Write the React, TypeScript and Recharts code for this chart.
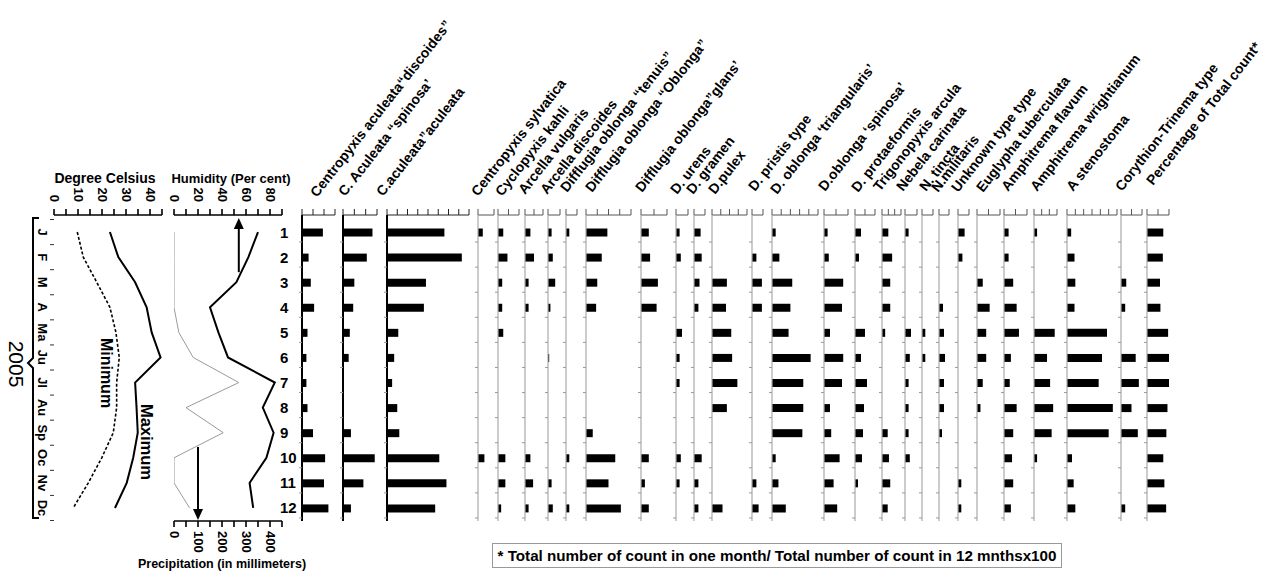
import React from 'react';
import { BarChart, Bar, LineChart, Line, XAxis, YAxis, ReferenceLine } from 'recharts';

const FONT = 'Arial, "Liberation Sans", Helvetica, sans-serif';

// ---------- data ----------
const months = [1, 2, 3, 4, 5, 6, 7, 8, 9, 10, 11, 12];
const monthAbbr = ['J', 'F', 'M', 'A', 'Ma', 'Ju', 'Jl', 'Au', 'Sp', 'Oc', 'Nv', 'Dc'];
const yearLabel = '2005';

const tempMax = [23.3, 26.8, 33.8, 38.6, 40.7, 44.4, 33.8, 34.4, 34.9, 33.0, 30.3, 25.4];
const tempMin = [9.7, 12.2, 17.8, 23.3, 25.8, 27.2, 26.1, 26.1, 24.7, 19.9, 14.3, 8.0];
const humidity = [70, 62, 52, 30, 37, 45, 84, 74, 83, 77, 63, 66];
const precipitation = [0, 0, 0, 0, 20, 80, 270, 50, 205, 0, 0, 65];

const tempTicks = [0, 5, 10, 15, 20, 25, 30, 35, 40, 45];
const humidityTicks = [0, 10, 20, 30, 40, 50, 60, 70, 80, 90];
const precipTicks = [0, 50, 100, 150, 200, 250, 300, 350, 400, 450];

const cAculeataDiscoides = [19, 6, 8, 11, 5, 4, 4, 5, 10, 21, 20, 24];
const cAculeataSpinosa = [26, 21, 10, 9, 6, 5, 0, 0, 7, 28, 18, 7];
const cAculeataAculeata = [56, 73, 38, 36, 11, 7, 5, 10, 12, 51, 58, 47];
const centropyxisSylvatica = [3, 0, 0, 0, 0, 0, 0, 0, 0, 4, 0, 0];
const cyclopyxisKahli = [5, 9, 4, 4, 5, 0, 0, 0, 0, 7, 7, 3];
const arcellaVulgaris = [6, 10, 4, 4, 0, 0, 0, 0, 0, 6, 9, 4];
const arcellaDiscoides = [3, 4, 6, 2, 0, 1, 0, 0, 0, 0, 3, 4];
const difflugiaTenuis = [3, 0, 0, 0, 0, 0, 0, 0, 0, 3, 0, 3];
const difflugiaOblonga = [19, 14, 10, 9, 0, 0, 0, 0, 6, 26, 20, 31];
const difflugiaGlans = [6, 7, 13, 12, 0, 0, 0, 0, 0, 6, 3, 6];
const dUrens = [3, 4, 0, 0, 5, 3, 3, 0, 0, 4, 3, 0];
const dGramen = [6, 7, 5, 4, 0, 0, 0, 0, 0, 7, 4, 4];
const dPulex = [0, 0, 17, 16, 22, 23, 29, 17, 0, 0, 0, 12];
const dPristis = [0, 4, 9, 9, 0, 0, 0, 0, 0, 0, 4, 6];
const dTriangularis = [4, 8, 22, 20, 18, 42, 34, 34, 33, 4, 7, 15];
const dSpinosa = [3, 4, 16, 15, 5, 16, 15, 5, 6, 13, 8, 11];
const dProtaeformis = [6, 4, 0, 0, 10, 6, 12, 9, 8, 7, 3, 0];
const trigonopyxisArcula = [10, 16, 13, 13, 5, 0, 0, 0, 9, 11, 13, 9];
const nebelaCarinata = [3, 0, 0, 0, 5, 4, 3, 3, 3, 4, 0, 0];
const nTincta = [0, 0, 0, 0, 3, 3, 0, 0, 0, 0, 0, 0];
const nMilitaris = [0, 0, 0, 4, 5, 6, 5, 5, 3, 0, 0, 0];
const unknownType = [6, 4, 0, 0, 0, 0, 0, 0, 0, 0, 3, 3];
const euglyphaTuberculata = [0, 0, 5, 11, 8, 8, 5, 3, 0, 0, 0, 0];
const amphitremaFlavum = [4, 4, 8, 11, 13, 6, 5, 11, 8, 7, 8, 6];
const amphitremaWrightianum = [4, 0, 0, 0, 27, 17, 21, 25, 23, 4, 0, 0];
const aStenostoma = [5, 9, 10, 9, 48, 42, 38, 55, 50, 6, 8, 10];
const corythionTrinema = [0, 0, 5, 4, 0, 14, 17, 10, 16, 0, 0, 4];
const percentTotal = [7.4, 7.2, 5.9, 6.1, 9.6, 11.7, 10.0, 9.3, 8.8, 7.4, 7.9, 8.7];

const speciesNames = [
  'Centropyxis aculeata\u201Cdiscoides\u201D',
  'C. Aculeata \u201Cspinosa\u2019',
  'C.aculeata\u201Daculeata',
  'Centropyxis sylvatica',
  'Cyclopyxis kahli',
  'Arcella vulgaris',
  'Arcella discoides',
  'Difflugia oblonga \u201Ctenuis\u201D',
  'Difflugia oblonga \u201COblonga\u201D',
  'Difflugia oblonga\u201Dglans\u2019',
  'D. urens',
  'D. gramen',
  'D.pulex',
  'D. pristis type',
  'D. oblonga \u2018triangularis\u2019',
  'D.oblonga \u2018spinosa\u2019',
  'D. protaeformis',
  'Trigonopyxis arcula',
  'Nebela carinata',
  'N. tincta',
  'N.militaris',
  'Unknown type type',
  'Euglypha tuberculata',
  'Amphitrema flavum',
  'Amphitrema wrightianum',
  'A stenostoma',
  'Corythion-Trinema type',
  'Percentage of Total count*',
];

const speciesValues = [
  cAculeataDiscoides, cAculeataSpinosa, cAculeataAculeata, centropyxisSylvatica,
  cyclopyxisKahli, arcellaVulgaris, arcellaDiscoides, difflugiaTenuis, difflugiaOblonga,
  difflugiaGlans, dUrens, dGramen, dPulex, dPristis, dTriangularis, dSpinosa,
  dProtaeformis, trigonopyxisArcula, nebelaCarinata, nTincta, nMilitaris, unknownType,
  euglyphaTuberculata, amphitremaFlavum, amphitremaWrightianum, aStenostoma,
  corythionTrinema, percentTotal,
];

const axisMax = [30, 30, 80, 10, 20, 20, 10, 10, 40, 20, 10, 10, 40, 10, 50, 20, 20, 30, 10, 10, 10, 10, 20, 20, 30, 60, 20, 10];
const axisStep = [10, 10, 10, 10, 10, 10, 10, 10, 10, 10, 10, 10, 10, 10, 10, 10, 10, 10, 10, 10, 10, 10, 10, 10, 10, 10, 10, 5];

const footnote = '* Total number of count in one month/ Total number of count in 12 mnthsx100';

// ---------- layout ----------
const colX = [302, 343, 387, 478, 498, 525, 548, 566, 586, 641, 676, 694, 712, 752, 772, 824, 855, 882, 905, 922, 939, 958, 977, 1004, 1034, 1067, 1121, 1147];
const colW = [33, 34, 82, 16, 21, 18, 12, 11, 45, 26, 12, 11, 35, 11, 46, 24, 20, 19, 12, 11, 10, 11, 23, 23, 23, 50, 21, 22];
const headerPos = [
  [317, 198], [345, 197], [383, 197], [478, 197], [502, 197], [525, 195], [547, 195],
  [567, 193], [592, 193], [642, 193], [677, 195], [693, 195], [715, 195], [755, 192],
  [777, 195], [825, 192], [858, 193], [880, 192], [903, 192], [926, 192], [938, 193],
  [958, 193], [983, 193], [1008, 192], [1037, 192], [1073, 192], [1122, 192], [1153, 186],
];

const Y_DOMAIN = [0.32, 12.52];
const PLOT_TOP = 215;
const PLOT_BOTTOM = 521;
const HALF_BAND = (PLOT_BOTTOM - PLOT_TOP) / (Y_DOMAIN[1] - Y_DOMAIN[0]) / 2;

const range = (max: number, step: number) => {
  const r: number[] = [];
  for (let v = 0; v <= max + 1e-9; v += step) r.push(v);
  return r;
};

const EmptyTick = () => <g />;

const ColYTick = (props: any) => {
  const { x, y, payload, first } = props;
  return (
    <g>
      <line x1={x - 3} y1={y + 10} x2={x} y2={y + 10} stroke="#999" strokeWidth={1} />
      {first ? (
        <text x={x - 22} y={y} textAnchor="start" dominantBaseline="central" fontSize={15} fontWeight="bold" fontFamily={FONT} fill="#000">
          {payload.value}
        </text>
      ) : null}
    </g>
  );
};

function SpeciesColumn({ idx }: { idx: number }) {
  const ml = idx === 0 ? 26 : 5;
  const mr = 3;
  const width = ml + colW[idx] + mr;
  const top = PLOT_TOP - 10;
  const height = PLOT_BOTTOM - top + 5;
  const data = months.map((m, i) => ({ month: m, v: speciesValues[idx][i] }));
  const dark = idx < 3;
  return (
    <div style={{ position: 'absolute', left: colX[idx] - ml, top, width, height }}>
      <BarChart width={width} height={height} data={data} layout="vertical" margin={{ top: 9, right: mr, bottom: 5, left: ml - 1 }}>
        <XAxis
          type="number"
          orientation="top"
          domain={[0, axisMax[idx]]}
          ticks={range(axisMax[idx], axisStep[idx])}
          interval={0}
          allowDataOverflow
          height={1}
          tick={EmptyTick}
          tickSize={6}
          stroke={dark ? '#222' : '#555'}
        />
        <YAxis
          type="number"
          dataKey="month"
          domain={Y_DOMAIN}
          allowDataOverflow
          ticks={months}
          interval={0}
          width={1}
          tickSize={0}
          tickMargin={0}
          tickLine={false}
          tick={(p: any) => <ColYTick {...p} first={idx === 0} />}
          axisLine={{ stroke: dark ? '#000' : '#aaa', strokeWidth: dark ? 2 : 1.2 }}
        />
        <Bar dataKey="v" fill="#000" barSize={8} isAnimationActive={false} />
      </BarChart>
    </div>
  );
}

const TopTick = (props: any) => {
  const { x, y, payload, every } = props;
  if (payload.value % every !== 0) return <g />;
  return (
    <text x={x} y={y} transform={`rotate(90 ${x} ${y})`} textAnchor="end" dominantBaseline="central" fontSize={13} fontWeight="bold" fontFamily={FONT} fill="#000">
      {payload.value}
    </text>
  );
};

const BottomTick = (props: any) => {
  const { x, y, payload, every } = props;
  if (payload.value % every !== 0) return <g />;
  return (
    <text x={x} y={y} transform={`rotate(90 ${x} ${y})`} textAnchor="start" dominantBaseline="central" fontSize={13} fontWeight="bold" fontFamily={FONT} fill="#000">
      {payload.value}
    </text>
  );
};

const MonthLetterTick = (props: any) => {
  const { x, y, index } = props;
  const lx = x - 12;
  return (
    <g>
      <line x1={x - 4} y1={y - HALF_BAND} x2={x} y2={y - HALF_BAND} stroke="#333" strokeWidth={1} />
      {index === months.length - 1 ? (
        <line x1={x - 4} y1={y + HALF_BAND} x2={x} y2={y + HALF_BAND} stroke="#333" strokeWidth={1} />
      ) : null}
      <text x={lx} y={y} transform={`rotate(90 ${lx} ${y})`} textAnchor="middle" dominantBaseline="central" fontSize={13} fontWeight="bold" fontFamily={FONT} fill="#000">
        {monthAbbr[index]}
      </text>
    </g>
  );
};

const ArrowShape = (props: any) => {
  const { x1, y1, x2, y2 } = props;
  const dir = y2 < y1 ? -1 : 1;
  const headLen = 11;
  const headHalf = 5;
  return (
    <g>
      <line x1={x1} y1={y1} x2={x2} y2={y2 - dir * headLen} stroke="#000" strokeWidth={2} />
      <polygon points={`${x2},${y2} ${x2 - headHalf},${y2 - dir * headLen} ${x2 + headHalf},${y2 - dir * headLen}`} fill="#000" />
    </g>
  );
};

function TemperaturePanel() {
  const data = months.map((m, i) => ({ month: m, max: tempMax[i], min: tempMin[i] }));
  const top = PLOT_TOP - 40;
  const height = PLOT_BOTTOM - top + 5;
  return (
    <div style={{ position: 'absolute', left: 0, top, width: 172, height }}>
      <LineChart width={172} height={height} data={data} layout="vertical" margin={{ top: 39, right: 10, bottom: 5, left: 53 }}>
        <XAxis
          type="number"
          orientation="top"
          domain={[0, 45]}
          ticks={tempTicks}
          interval={0}
          allowDataOverflow
          height={1}
          tickSize={6}
          tickMargin={7}
          stroke="#000"
          strokeWidth={1.6}
          tick={(p: any) => <TopTick {...p} every={10} />}
        />
        <YAxis
          type="number"
          dataKey="month"
          domain={Y_DOMAIN}
          allowDataOverflow
          ticks={months}
          interval={0}
          width={1}
          tickSize={0}
          tickMargin={0}
          tickLine={false}
          axisLine={false}
          tick={MonthLetterTick}
        />
        <Line dataKey="max" stroke="#000" strokeWidth={2} dot={false} isAnimationActive={false} />
        <Line dataKey="min" stroke="#000" strokeWidth={1.6} strokeDasharray="3 2" dot={false} isAnimationActive={false} />
      </LineChart>
    </div>
  );
}

function ClimatePanel() {
  const data = months.map((m, i) => ({ month: m, humidity: humidity[i], precipitation: precipitation[i] }));
  const top = PLOT_TOP - 40;
  const height = PLOT_BOTTOM - top + 32;
  return (
    <div style={{ position: 'absolute', left: 164, top, width: 128, height }}>
      <LineChart width={128} height={height} data={data} layout="vertical" margin={{ top: 39, right: 10, bottom: 31, left: 10 }}>
        <XAxis
          xAxisId="h"
          type="number"
          orientation="top"
          domain={[0, 90]}
          ticks={humidityTicks}
          interval={0}
          allowDataOverflow
          height={1}
          tickSize={6}
          tickMargin={7}
          stroke="#000"
          strokeWidth={1.6}
          tick={(p: any) => <TopTick {...p} every={20} />}
        />
        <XAxis
          xAxisId="p"
          type="number"
          orientation="bottom"
          domain={[0, 450]}
          ticks={precipTicks}
          interval={0}
          allowDataOverflow
          height={1}
          tickSize={6}
          tickMargin={4}
          stroke="#000"
          strokeWidth={1.6}
          tick={(p: any) => <BottomTick {...p} every={100} />}
        />
        <YAxis type="number" dataKey="month" domain={Y_DOMAIN} allowDataOverflow hide />
        <Line xAxisId="p" dataKey="precipitation" stroke="#9a9a9a" strokeWidth={1} dot={false} isAnimationActive={false} />
        <Line xAxisId="h" dataKey="humidity" stroke="#000" strokeWidth={2} dot={false} isAnimationActive={false} />
        <ReferenceLine xAxisId="h" ifOverflow="visible" segment={[{ x: 54, y: 2.6 }, { x: 54, y: 0.44 }]} shape={ArrowShape} />
        <ReferenceLine xAxisId="p" ifOverflow="visible" segment={[{ x: 100, y: 9.57 }, { x: 100, y: 12.48 }]} shape={ArrowShape} />
      </LineChart>
    </div>
  );
}

function Overlay() {
  return (
    <svg width={1264} height={574} style={{ position: 'absolute', left: 0, top: 0, pointerEvents: 'none' }} fontFamily={FONT}>
      {speciesNames.map((name, i) => {
        const [hx, hy] = headerPos[i];
        return (
          <text key={name} x={hx} y={hy} transform={`rotate(-52 ${hx} ${hy})`} fontSize={14} fontWeight="bold" fill="#000">
            {name}
          </text>
        );
      })}
      <text x={105} y={183} textAnchor="middle" fontSize={14} fontWeight="bold" fill="#000">Degree Celsius</text>
      <text x={231} y={183} textAnchor="middle" fontSize={13} fontWeight="bold" fill="#000">Humidity (Per cent)</text>
      <text x={222} y={568} textAnchor="middle" fontSize={12.5} fontWeight="bold" fill="#000">Precipitation (in millimeters)</text>
      <path d="M39,218 L33,218 L33,358 L28,363 L33,368 L33,518 L39,518" fill="none" stroke="#000" strokeWidth={2} />
      <text x={16} y={364} transform="rotate(90 16 364)" textAnchor="middle" dominantBaseline="central" fontSize={21} fill="#000">{yearLabel}</text>
      <text x={106} y={373} transform="rotate(90 106 373)" textAnchor="middle" dominantBaseline="central" fontSize={16} fontWeight="bold" fill="#000">Minimum</text>
      <text x={147} y={442} transform="rotate(90 147 442)" textAnchor="middle" dominantBaseline="central" fontSize={16.5} fontWeight="bold" fill="#000">Maximum</text>
    </svg>
  );
}

export default function App() {
  return (
    <div style={{ position: 'absolute', left: 0, top: 0, width: 1264, height: 574, background: '#fff', overflow: 'hidden', fontFamily: FONT }}>
      <TemperaturePanel />
      <ClimatePanel />
      {speciesNames.map((n, i) => (
        <SpeciesColumn key={n} idx={i} />
      ))}
      <Overlay />
      <div
        style={{
          position: 'absolute', left: 492, top: 543, width: 570, height: 25, boxSizing: 'border-box',
          border: '1px solid #999', fontSize: 15.2, fontWeight: 'bold', lineHeight: '23px', textAlign: 'center',
          color: '#000', whiteSpace: 'nowrap', fontFamily: FONT,
        }}
      >
        {footnote}
      </div>
    </div>
  );
}
